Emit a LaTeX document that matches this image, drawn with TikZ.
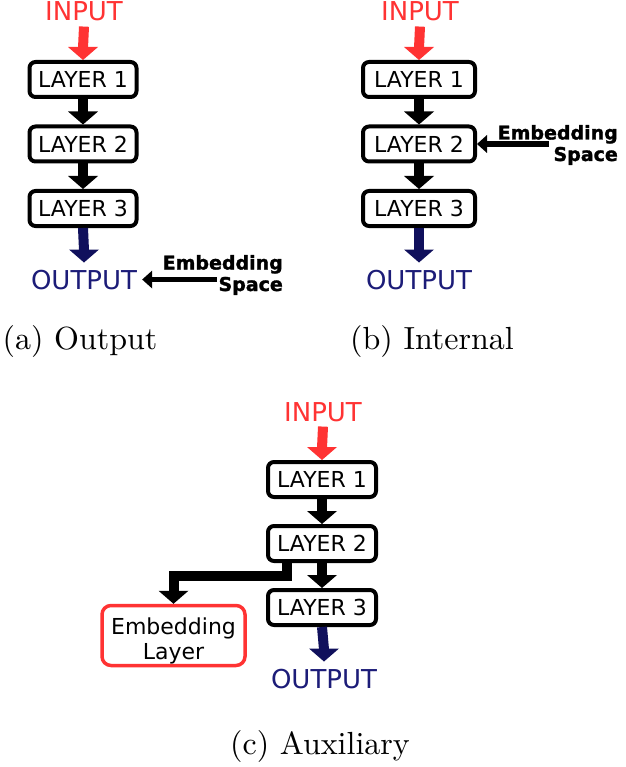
\documentclass[tikz,border=0pt]{standalone}
\usepackage{fontspec}
\setsansfont{DejaVu Sans}
\newfontfamily\capfont{lmroman10-regular.otf}
\definecolor{inred}{RGB}{255,51,51}
\definecolor{navyA}{RGB}{16,16,92}
\definecolor{navyT}{RGB}{28,28,120}
\tikzset{
  layerbox/.style={draw=black, line width=4pt, rounded corners=6pt, minimum width=107pt,
    minimum height=35pt, inner sep=0pt, fill=white, font=\sffamily\fontsize{22}{26}\selectfont},
  embbox/.style={draw=inred, line width=3.5pt, rounded corners=9pt, minimum width=143pt,
    minimum height=60pt, inner sep=0pt, align=center, font=\sffamily\fontsize{22}{25}\selectfont},
  intext/.style={inner sep=0pt, text=inred, font=\sffamily\fontsize{26}{30}\selectfont},
  outtext/.style={inner sep=0pt, text=navyT, font=\sffamily\fontsize{26}{30}\selectfont},
  embtext/.style={inner sep=0pt, align=right,
    font=\sffamily\bfseries\fontsize{19}{21.5}\selectfont\addfontfeature{FakeBold=1.5}},
  captext/.style={inner sep=0pt, font=\capfont\fontsize{32}{38}\selectfont},
  shaft/.style={line width=10pt, line join=miter},
  thinshaft/.style={line width=5.5pt},
}
\begin{document}
\begin{tikzpicture}[x=1pt, y=-1pt]
\useasboundingbox (0,0) rectangle (625,767);

% ---------- (a) Output ----------
\node[intext, anchor=base] (ina) at (84,21) {INPUT};
\node[layerbox] (a1) at (83,79.5) {LAYER 1};
\node[layerbox] (a2) at (83,144) {LAYER 2};
\node[layerbox] (a3) at (83,208.5) {LAYER 3};
\node[outtext, anchor=base] (outa) at (84,289) {OUTPUT};
\node[embtext, anchor=base east] (esa) at (283,291) {Embedding\\Space};
\draw[shaft, inred] ([yshift=-5pt]ina.south) -- ([yshift=12pt]a1.north);
\fill[inred] (a1.north) -- ++(-15,-13) -- ++(30,0) -- cycle;
\draw[shaft] (a1.south) -- ([yshift=12pt]a2.north);
\fill (a2.north) -- ++(-15,-13) -- ++(30,0) -- cycle;
\draw[shaft] (a2.south) -- ([yshift=12pt]a3.north);
\fill (a3.north) -- ++(-15,-13) -- ++(30,0) -- cycle;
\coordinate (outat) at ([yshift=7pt]outa.north);
\draw[shaft, navyA] (a3.south) -- ([yshift=12pt]outat);
\fill[navyA] (outat) -- ++(-15,-13) -- ++(30,0) -- cycle;
\coordinate (esat) at ([xshift=5pt]outa.east);
\path (outa.east) ++(80,0) coordinate (esa0);
\draw[thinshaft] (esa0) -- ([xshift=9pt]esat);
\fill (esat) -- ++(10,-9) -- ++(0,18) -- cycle;
\node[captext, anchor=base] (capa) at (80,349) {(a) Output};

% ---------- (b) Internal ----------
\node[intext, anchor=base] (inb) at (420,21) {INPUT};
\node[layerbox, minimum width=112pt] (b1) at (419,79.5) {LAYER 1};
\node[layerbox, minimum width=112pt] (b2) at (419,144) {LAYER 2};
\node[layerbox, minimum width=112pt] (b3) at (419,208.5) {LAYER 3};
\node[outtext, anchor=base] (outb) at (419,289) {OUTPUT};
\node[embtext, anchor=base east] (esb) at (618,161) {Embedding\\Space};
\draw[shaft, inred] ([yshift=-5pt]inb.south) -- ([yshift=12pt]b1.north);
\fill[inred] (b1.north) -- ++(-15,-13) -- ++(30,0) -- cycle;
\draw[shaft] (b1.south) -- ([yshift=12pt]b2.north);
\fill (b2.north) -- ++(-15,-13) -- ++(30,0) -- cycle;
\draw[shaft] (b2.south) -- ([yshift=12pt]b3.north);
\fill (b3.north) -- ++(-15,-13) -- ++(30,0) -- cycle;
\coordinate (outbt) at ([yshift=7pt]outb.north);
\draw[shaft, navyA] (b3.south) -- ([yshift=12pt]outbt);
\fill[navyA] (outbt) -- ++(-15,-13) -- ++(30,0) -- cycle;
\path (b2.east) ++(72,0) coordinate (esb0);
\draw[thinshaft] (esb0) -- ([xshift=9pt]b2.east);
\fill (b2.east) -- ++(10,-9) -- ++(0,18) -- cycle;
\node[captext, anchor=base] (capb) at (432,349) {(b) Internal};

% ---------- (c) Auxiliary ----------
\node[intext, anchor=base] (inc) at (323,421) {INPUT};
\node[layerbox, minimum width=108pt] (c1) at (322,479.5) {LAYER 1};
\node[layerbox, minimum width=108pt] (c2) at (322,543.5) {LAYER 2};
\node[layerbox, minimum width=108pt] (c3) at (322,607.5) {LAYER 3};
\node[outtext, anchor=base] (outc) at (324,688) {OUTPUT};
\node[embbox] (emb) at (173.5,635.5) {\rule{0pt}{28pt}Embedding\\Layer};
\draw[shaft, inred] ([yshift=-5pt]inc.south) -- ([yshift=12pt]c1.north);
\fill[inred] (c1.north) -- ++(-15,-13) -- ++(30,0) -- cycle;
\draw[shaft] (c1.south) -- ([yshift=12pt]c2.north);
\fill (c2.north) -- ++(-15,-13) -- ++(30,0) -- cycle;
\draw[shaft] (c2.south) -- ([yshift=12pt]c3.north);
\fill (c3.north) -- ++(-15,-13) -- ++(30,0) -- cycle;
\draw[shaft] ([xshift=-35pt]c2.south) -- ++(0,13) -| ([yshift=12pt]emb.north);
\fill (emb.north) -- ++(-15,-13) -- ++(30,0) -- cycle;
\coordinate (outct) at ([yshift=7pt]outc.north);
\draw[shaft, navyA] (c3.south) -- ([yshift=12pt]outct);
\fill[navyA] (outct) -- ++(-15,-13) -- ++(30,0) -- cycle;
\node[captext, anchor=base] (capc) at (320,754) {(c) Auxiliary};
\end{tikzpicture}
\end{document}
